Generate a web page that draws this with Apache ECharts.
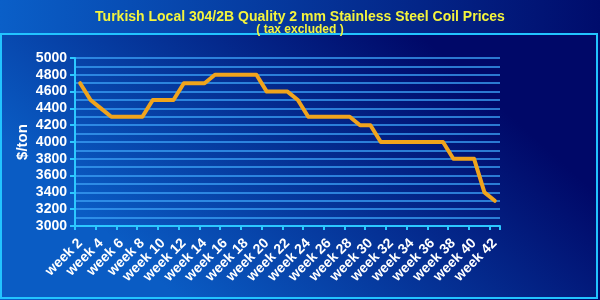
<!DOCTYPE html>
<html><head><meta charset="utf-8">
<script src="https://cdn.jsdelivr.net/npm/echarts@6/dist/echarts.min.js"></script>
<style>html,body{margin:0;padding:0;background:#00086a}#c{width:600px;height:300px}</style>
</head><body><div id="c"></div>
<script>
const titleText = 'Turkish Local 304/2B Quality 2 mm Stainless Steel Coil Prices';
const subTitleText = '( tax excluded )';
const yAxisName = '$/ton';
const weeks = [];
for (let w = 2; w <= 42; w++) weeks.push('week ' + w);
const prices = [4700,4500,4400,4300,4300,4300,4300,4500,4500,4500,
  4700,4700,4700,4800,4800,4800,4800,4800,4600,4600,
  4600,4500,4300,4300,4300,4300,4300,4200,4200,4000,
  4000,4000,4000,4000,4000,4000,3800,3800,3800,3400,3300];
const yMin = 3000, yMax = 5000, yStep = 200;

const chart = echarts.init(document.getElementById('c'));
chart.setOption({
  animation: false,
  backgroundColor: '#00086a',
  graphic: [
    { type: 'rect', z: -10, shape: { x: 0, y: 0, width: 600, height: 300 },
      style: { fill: new echarts.graphic.LinearGradient(0, 0, 1, 0, [
        { offset: 0, color: '#0a5fc8' }, { offset: 1, color: '#000c6c' }]) } },
    { type: 'rect', z: -9, shape: { x: 1, y: 34, width: 596, height: 264 },
      style: { fill: new echarts.graphic.LinearGradient(0.3, 1, 0.7, 0, [
        { offset: 0, color: '#0a5cc4' }, { offset: 1, color: '#000868' }]),
        stroke: '#22c4ff', lineWidth: 2 } }
  ],
  title: [
    { text: titleText, left: 'center', top: 5,
      textStyle: { color: '#f4f43c', fontFamily: 'Liberation Sans', fontWeight: 'bold', fontSize: 14 } },
    { text: subTitleText, left: 'center', top: 19,
      textStyle: { color: '#f4f43c', fontFamily: 'Liberation Sans', fontWeight: 'bold', fontSize: 12 } }
  ],
  grid: { left: 75, right: 100, top: 58, bottom: 74 },
  xAxis: {
    type: 'category', data: weeks, boundaryGap: true,
    axisLine: { lineStyle: { color: '#2cc8ff', width: 2 } },
    axisTick: { show: true, interval: 1, length: 4, lineStyle: { color: '#2cc8ff', width: 2 } },
    axisLabel: { interval: 1, rotate: 45, color: '#ffffff', fontFamily: 'Liberation Sans',
      fontWeight: 'bold', fontSize: 14, margin: 15 },
    splitLine: { show: false }
  },
  yAxis: {
    type: 'value', min: yMin, max: yMax, interval: yStep,
    name: yAxisName, nameLocation: 'middle', nameGap: 45, nameRotate: 90, nameMoveOverlap: false,
    nameTextStyle: { color: '#ffffff', fontFamily: 'Liberation Sans', fontWeight: 'bold', fontSize: 15 },
    axisLine: { show: true, lineStyle: { color: '#2cc8ff', width: 2 } },
    axisTick: { show: true, length: 5, lineStyle: { color: '#2cc8ff', width: 2 } },
    axisLabel: { color: '#ffffff', fontFamily: 'Liberation Sans', fontWeight: 'bold', fontSize: 14, margin: 8,
      formatter: v => String(v) },
    splitLine: { show: true, lineStyle: { color: '#3a9ef4', width: 1.5 } },
    minorTick: { show: false, splitNumber: 2 },
    minorSplitLine: { show: true, lineStyle: { color: '#3a9ef4', width: 1.5 } }
  },
  series: [{
    type: 'line', data: prices, showSymbol: false, symbol: 'none',
    lineStyle: { color: '#f0a41c', width: 4, join: 'round', cap: 'round' }
  }]
});
</script>
</body></html>
